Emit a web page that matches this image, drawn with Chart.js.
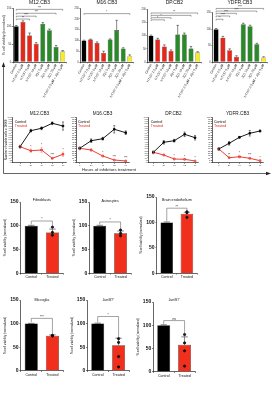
<!DOCTYPE html>
<html>
<head>
<meta charset="utf-8">
<script src="https://cdn.jsdelivr.net/npm/chart.js@4.4.1/dist/chart.umd.min.js"></script>
<style>
  body { margin: 0; background: #fff; }
  #fig { position: relative; width: 272px; height: 396px; overflow: hidden; }
  #fig canvas, #fig svg { position: absolute; }
</style>
</head>
<body>
<div id="fig"></div>
<script>
// top row - viability per drug, 4 glioma lines
const drugLabels = ["Control", "NT157 2.5 µM", "NT157 5 µM", "NT157 10 µM", "JQ1 5 µM", "JQ1 10 µM", "JQ1 20 µM", "NT157 2.5 µM + JQ1 5 µM"];
const drugColors = ["#000000", "#e6281c", "#e6281c", "#e6281c", "#2a8a2a", "#2a8a2a", "#2a8a2a", "#f3ec2b"];

const m12Viab = [100, 112, 74, 51, 106, 89, 42, 29];
const m12Err = [2, 3, 7, 3, 4, 3, 4, 3];
const m12Sig = [[0, 7, 147, "***"], [0, 6, 136, "***"], [0, 3, 128, "****"], [0, 2, 120, "**"]];

const m16Viab = [100, 104, 88, 42, 104, 148, 63, 27];
const m16Err = [1, 2, 5, 8, 3, 45, 3, 6];
const m16Sig = [[0, 7, 224, "*"]];

const dpViab = [100, 85, 59, 42, 104, 104, 51, 36];
const dpErr = [2, 5, 6, 4, 35, 6, 8, 3];
const dpSig = [[0, 7, 186, "**"], [0, 6, 177, ""], [0, 3, 168, "*"], [0, 2, 160, "*"]];

const ydfrViab = [100, 74, 36, 16, 115, 109, 54, 14];
const ydfrErr = [2, 4, 4, 3, 3, 3, 3, 2];
const ydfrSig = [[0, 7, 163, "****"], [0, 6, 155, "****"], [0, 3, 148, "****"], [0, 2, 140, "****"], [0, 1, 130, "**"]];

// middle row - growth curves (relative units of viable cells)
const hours = [0, 24, 48, 72, 96];
const m12Ctrl = [34.7, 69.9, 75.2, 86.2, 80.2];
const m12CtrlErr = [3, 3, 3, 3, 9];
const m12Trt = [34.7, 25.9, 27.5, 9.2, 18.0];
const m12TrtErr = [3, 4, 6, 2, 5];
const m12Stars = ["", "*", "*", "***", "*"];

const m16Ctrl = [31.2, 47.9, 52.3, 73.0, 65.5];
const m16CtrlErr = [3, 4, 3, 8, 4];
const m16Trt = [31.2, 27.5, 14.3, 5.5, 3.3];
const m16TrtErr = [3, 3, 2, 1, 1];
const m16Stars = ["", "", "*", "***", "***"];

const dpCtrl = [22.4, 44.4, 47.9, 62.0, 54.5];
const dpCtrlErr = [3, 4, 3, 5, 5];
const dpTrt = [22.4, 16.5, 7.7, 7.0, 3.3];
const dpTrtErr = [3, 2, 2, 1, 1];
const dpStars = ["", "", "*", "*", "*"];

const ydfrCtrl = [29.7, 42.2, 55.4, 64.2, 69.2];
const ydfrCtrlErr = [3, 4, 2, 6, 2];
const ydfrTrt = [29.7, 10.5, 12.7, 9.2, 4.0];
const ydfrTrtErr = [3, 2, 3, 2, 1];
const ydfrStars = ["", "**", "*", "***", "*"];

// bottom rows - control vs treated in other cells
const cellGroups = ["Control", "Treated"];
const fibroViab = [100, 86], fibroErr = [1, 7], fibroDots = [97, 86, 80];
const astroViab = [100, 84], astroErr = [1, 5], astroDots = [91, 84, 79];
const endoViab = [100, 117], endoErr = [1, 3], endoDots = [121, 119, 110];
const microViab = [100, 74], microErr = [0.5, 2], microDots = [75, 74, 74];
const junbAViab = [100, 54], junbAErr = [1, 15], junbADots = [68, 60, 30, 8];
const junbBViab = [100, 58], junbBErr = [1, 17], junbBDots = [80, 62, 45, 12];

const FONT = '"Liberation Sans", Arial, sans-serif';
const RED = "#e6281c";
Chart.defaults.font.family = FONT;
Chart.defaults.color = "#222";
Chart.defaults.animation = false;
Chart.defaults.responsive = false;
Chart.defaults.plugins.legend.display = false;
Chart.defaults.plugins.tooltip.enabled = false;

const fig = document.getElementById("fig");

// canvas placed so the plot area lands where it should
function frame(axisX, plotTop, plotRight, plotBottom, yw, padTop, xh) {
  const left = Math.round(axisX - yw), top = Math.round(plotTop - padTop);
  const w = Math.round(plotRight + 1 - left), h = Math.round(plotBottom + xh - top);
  const cv = document.createElement("canvas");
  cv.width = w; cv.height = h;
  cv.style.left = left + "px"; cv.style.top = top + "px";
  fig.appendChild(cv);
  return { cv: cv, yw: axisX - left, padTop: plotTop - top, padRight: left + w - plotRight, xh: top + h - plotBottom };
}

function panelTitle(text, size, dy) {
  return { id: "ptitle", afterDraw(chart) {
    const ctx = chart.ctx, a = chart.chartArea;
    ctx.save();
    ctx.font = size + "px " + FONT;
    ctx.fillStyle = "#111"; ctx.textAlign = "center"; ctx.textBaseline = "middle";
    ctx.fillText(text, (a.left + a.right) / 2, a.top + dy);
    ctx.restore();
  }};
}

function errorBars(both) {
  return { id: "errbars", afterDatasetsDraw(chart) {
    const ctx = chart.ctx;
    chart.data.datasets.forEach((ds, di) => {
      if (!ds.errors) return;
      const meta = chart.getDatasetMeta(di), y = chart.scales[meta.yAxisID];
      ctx.save();
      ctx.strokeStyle = ds.errColor || "#111"; ctx.lineWidth = 0.5;
      meta.data.forEach((el, i) => {
        const e = ds.errors[i];
        if (!e) return;
        const d = ds.data[i];
        const v = typeof d === "object" ? d.y : d;
        const yt = y.getPixelForValue(v + e);
        const yb = both ? y.getPixelForValue(v - e) : el.y;
        const cap = both ? 1 : (el.width || 4) * 0.25;
        ctx.beginPath();
        ctx.moveTo(el.x, yb); ctx.lineTo(el.x, yt);
        ctx.moveTo(el.x - cap, yt); ctx.lineTo(el.x + cap, yt);
        if (both) { ctx.moveTo(el.x - cap, yb); ctx.lineTo(el.x + cap, yb); }
        ctx.stroke();
      });
      ctx.restore();
    });
  }};
}

function brackets(items, size, drop) {
  return { id: "sig", afterDatasetsDraw(chart) {
    const ctx = chart.ctx, x = chart.scales.x, y = chart.scales.y;
    ctx.save();
    ctx.strokeStyle = "#333"; ctx.lineWidth = 0.45; ctx.fillStyle = "#111";
    ctx.font = size + "px " + FONT; ctx.textAlign = "center"; ctx.textBaseline = "bottom";
    for (const it of items) {
      const xa = x.getPixelForValue(it[0]), xb = x.getPixelForValue(it[1]), yl = y.getPixelForValue(it[2]);
      const ya = it[4] == null ? yl + drop : y.getPixelForValue(it[4]);
      const yb = it[5] == null ? yl + drop : y.getPixelForValue(it[5]);
      ctx.beginPath();
      ctx.moveTo(xa, ya); ctx.lineTo(xa, yl); ctx.lineTo(xb, yl); ctx.lineTo(xb, yb);
      ctx.stroke();
      if (it[3]) ctx.fillText(it[3], (xa + xb) / 2, yl + 0.2);
    }
    ctx.restore();
  }};
}

function starsAndLegend() {
  return { id: "starsleg", afterDatasetsDraw(chart) {
    const ctx = chart.ctx, a = chart.chartArea;
    ctx.save();
    ctx.textAlign = "left"; ctx.textBaseline = "middle";
    ctx.font = "3.6px " + FONT;
    chart.data.datasets.forEach((ds, di) => {
      ctx.fillStyle = ds.borderColor;
      ctx.fillText(ds.label, a.left + 2, a.top + 5 + di * 4);
    });
    ctx.textAlign = "center"; ctx.textBaseline = "bottom"; ctx.font = "3px " + FONT; ctx.fillStyle = "#222";
    chart.data.datasets.forEach((ds, di) => {
      if (!ds.stars) return;
      const meta = chart.getDatasetMeta(di), y = chart.scales.y;
      meta.data.forEach((el, i) => {
        if (!ds.stars[i]) return;
        ctx.fillText(ds.stars[i], el.x, y.getPixelForValue(ds.data[i].y + ds.errors[i]) - 0.5);
      });
    });
    ctx.restore();
  }};
}

const axisGrid = { drawOnChartArea: false, tickLength: 1.3, color: "#000", lineWidth: 0.5 };
const axisBorder = { color: "#000", width: 0.6 };

function drugPanel(title, values, errs, yMax, sig, axisX, plotTop, plotRight, yTitle) {
  const f = frame(axisX, plotTop, plotRight, 62, 13, plotTop, 40);
  new Chart(f.cv, {
    type: "bar",
    data: { labels: drugLabels, datasets: [{
      data: values, errors: errs, backgroundColor: drugColors,
      borderColor: "#111", borderWidth: 0.4, barPercentage: 0.8, categoryPercentage: 0.92
    }]},
    options: {
      layout: { padding: { top: f.padTop, right: f.padRight, left: 0, bottom: 0 } },
      scales: {
        x: { grid: axisGrid, border: axisBorder,
             ticks: { autoSkip: false, minRotation: 60, maxRotation: 60, padding: 0.3, font: { size: 3.2 }, color: "#222" },
             afterFit: s => { s.height = f.xh; } },
        y: { min: 0, max: yMax, grid: axisGrid, border: axisBorder,
             ticks: { stepSize: 50, font: { size: 2.6 }, color: "#333", padding: 0.6 },
             title: { display: yTitle, text: "% cell viability (normalized)", font: { size: 3.3 }, color: "#222", padding: { top: 1.9, bottom: 0 } },
             afterFit: s => { s.width = f.yw; } }
      }
    },
    plugins: [panelTitle(title, 5, 3 - plotTop), errorBars(false), brackets(sig, 2.6, 1.3)]
  });
}

function growthPanel(title, ctrl, ctrlErr, trt, trtErr, stars, axisX, plotRight, xMin, yTitle) {
  const f = frame(axisX, 117, plotRight, 162.5, 13, 6, 7);
  const pts = arr => hours.map((h, i) => ({ x: h, y: arr[i] }));
  new Chart(f.cv, {
    type: "line",
    data: { datasets: [
      { label: "Control", data: pts(ctrl), errors: ctrlErr, borderColor: "#000", backgroundColor: "#000",
        borderWidth: 0.9, pointStyle: "rect", pointRadius: 1.1, tension: 0 },
      { label: "Treated", data: pts(trt), errors: trtErr, stars: stars, errColor: "#e88", borderColor: RED, backgroundColor: RED,
        borderWidth: 0.9, pointStyle: "rect", pointRadius: 1.1, tension: 0 }
    ]},
    options: {
      layout: { padding: { top: f.padTop, right: f.padRight, left: 0, bottom: 0 } },
      scales: {
        x: { type: "linear", min: xMin, max: 103, grid: axisGrid, border: axisBorder,
             afterBuildTicks: s => { s.ticks = hours.map(v => ({ value: v })); },
             ticks: { font: { size: 2.4 }, color: "#333", padding: 0.5 },
             afterFit: s => { s.height = f.xh; } },
        y: { min: 0, max: 100, grid: axisGrid, border: axisBorder,
             ticks: { stepSize: 5, autoSkip: false, maxTicksLimit: 40, font: { size: 2.1 }, color: "#444", padding: 0.5 },
             title: { display: yTitle, text: "Number of viable cells x 10000", font: { size: 3 }, color: "#222", padding: { top: 4.3, bottom: 0 } },
             afterFit: s => { s.width = f.yw; } }
      }
    },
    plugins: [panelTitle(title, 4.7, -3), errorBars(true), starsAndLegend()]
  });
}

function cellPanel(title, values, errs, dots, sig, axisX, plotTop, plotRight, plotBottom, titleDy) {
  const f = frame(axisX, plotTop, plotRight, plotBottom, 20.7, 5, 8);
  new Chart(f.cv, {
    type: "bar",
    data: { labels: cellGroups, datasets: [
      { type: "scatter", data: dots.map(v => ({ x: "Treated", y: v })), backgroundColor: "#111", borderColor: "#111",
        pointRadius: 1.1, order: 0 },
      { data: values, errors: errs, backgroundColor: ["#000000", "#f0301c"], borderColor: "#000", borderWidth: 0.5,
        barPercentage: 0.62, categoryPercentage: 1, order: 1 }
    ]},
    options: {
      layout: { padding: { top: f.padTop, right: f.padRight, left: 0, bottom: 0 } },
      scales: {
        x: { type: "category", grid: axisGrid, border: axisBorder,
             ticks: { font: { size: 3.6 }, color: "#111", padding: 0.4 },
             afterFit: s => { s.height = f.xh; } },
        y: { min: 0, max: 150, grid: axisGrid, border: axisBorder,
             ticks: { stepSize: 50, font: { size: 5, weight: "bold" }, color: "#111", padding: 0.8 },
             title: { display: true, text: "% cell viability (normalized)", font: { size: 3.1 }, color: "#222", padding: { top: 3.2, bottom: 0 } },
             afterFit: s => { s.width = f.yw; } }
      }
    },
    plugins: [panelTitle(title, 3.7, titleDy), errorBars(false), brackets([sig], 3.2, 0)]
  });
}

drugPanel("M12.CB3", m12Viab, m12Err, 150, m12Sig, 13, 8.3, 66, true);
drugPanel("M16.CB3", m16Viab, m16Err, 250, m16Sig, 80.7, 8, 133, false);
drugPanel("DP.CB2", dpViab, dpErr, 200, dpSig, 147.7, 9.3, 201, false);
drugPanel("YDFR.CB3", ydfrViab, ydfrErr, 150, ydfrSig, 212.7, 12.7, 267, false);

growthPanel("M12.CB3", m12Ctrl, m12CtrlErr, m12Trt, m12TrtErr, m12Stars, 12.7, 70, -16.5, true);
growthPanel("M16.CB3", m16Ctrl, m16CtrlErr, m16Trt, m16TrtErr, m16Stars, 76, 133, -7.7, false);
growthPanel("DP.CB2", dpCtrl, dpCtrlErr, dpTrt, dpTrtErr, dpStars, 148.7, 202, -10.7, false);
growthPanel("YDFR.CB3", ydfrCtrl, ydfrCtrlErr, ydfrTrt, ydfrTrtErr, ydfrStars, 212, 267, -15.8, false);

cellPanel("Fibroblasts", fibroViab, fibroErr, fibroDots, [0, 1, 110, "*", 103, 96], 20.7, 201.7, 66.5, 273.3, -1.7);
cellPanel("Astrocytes", astroViab, astroErr, astroDots, [0, 1, 108, "*", 103, 92], 89.3, 201.7, 135, 273.3, -1);
cellPanel("Brain endothelium", endoViab, endoErr, endoDots, [0, 1, 128, "**", 103, 122], 156.7, 196.7, 201, 273.3, 3.3);
cellPanel("Microglia", microViab, microErr, microDots, [0, 1, 111, "***", 103, 78], 20.7, 300, 66.5, 370.7, 0);
cellPanel("JunB⁺/⁺", junbAViab, junbAErr, junbADots, [0, 1, 115, "*", 103, 70], 87.3, 300, 133, 370.7, 0);
cellPanel("JunB⁻/⁻", junbBViab, junbBErr, junbBDots, [0, 1, 110, "ns", 103, 76], 153.3, 301.7, 199, 371.7, -1.7);

// arrows framing the top two rows
const ns = "http://www.w3.org/2000/svg";
const svg = document.createElementNS(ns, "svg");
svg.setAttribute("width", 272); svg.setAttribute("height", 396);
svg.style.left = "0px"; svg.style.top = "0px";
svg.innerHTML =
  '<path d="M3.5 66 V173.5 H267" stroke="#222" stroke-width="0.7" fill="none"/>' +
  '<path d="M3.5 62 L1.8 67 L5.2 67 Z" fill="#222"/>' +
  '<path d="M271 173.5 L266 171.8 L266 175.2 Z" fill="#222"/>' +
  '<text x="82" y="170.8" font-size="4.3" fill="#222" font-family="Liberation Sans, Arial, sans-serif">Hours of inhibitors treatment</text>';
fig.appendChild(svg);
</script>
</body>
</html>
